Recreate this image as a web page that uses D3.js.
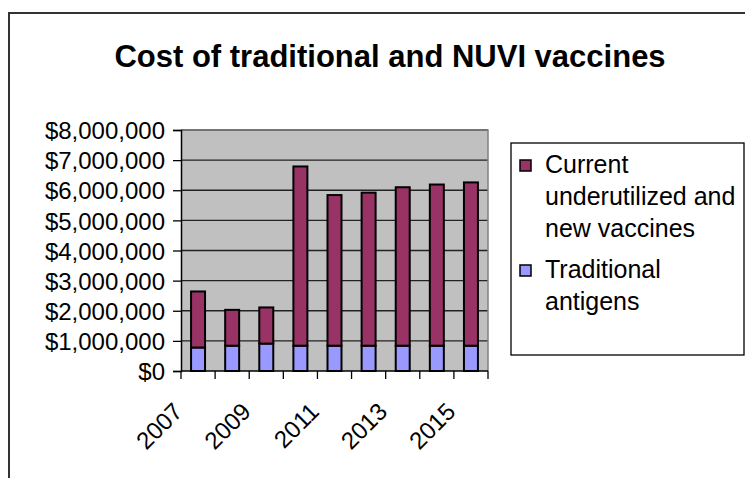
<!DOCTYPE html>
<html>
<head>
<meta charset="utf-8">
<script src="https://cdn.jsdelivr.net/npm/d3@7"></script>
<style>
  body { margin: 0; background: #fff; }
  text { font-family: Arial, "Liberation Sans", sans-serif; fill: #000; }
</style>
</head>
<body>
<div id="chart"></div>
<script>
var years = ["2007", "2008", "2009", "2010", "2011", "2012", "2013", "2014", "2015"];
var traditional = [780000, 840000, 910000, 840000, 840000, 840000, 840000, 840000, 840000];
var current = [1860000, 1190000, 1200000, 5950000, 5000000, 5080000, 5260000, 5350000, 5420000];
var yTicks = [0, 1000000, 2000000, 3000000, 4000000, 5000000, 6000000, 7000000, 8000000];
var seriesNames = ["Current underutilized and new vaccines", "Traditional antigens"];
var seriesColors = ["#993366", "#9999ff"];

var width = 745, height = 478;
var plot = {left: 181, right: 488, top: 130, bottom: 371};

var svg = d3.select("#chart").append("svg")
    .attr("width", width)
    .attr("height", height);

// chart area border
svg.append("rect")
    .attr("x", 9).attr("y", 13)
    .attr("width", 800).attr("height", 600)
    .attr("fill", "#fff")
    .attr("stroke", "#333")
    .attr("stroke-width", 2);

svg.append("text")
    .attr("x", 390).attr("y", 67)
    .attr("text-anchor", "middle")
    .style("font-size", "31px")
    .style("font-weight", "bold")
    .text("Cost of traditional and NUVI vaccines");

var x = d3.scaleBand()
    .domain(years)
    .range([plot.left, plot.right])
    .padding(0);

var y = d3.scaleLinear()
    .domain([0, 8000000])
    .range([plot.bottom, plot.top]);

// plot background
svg.append("rect")
    .attr("x", plot.left).attr("y", plot.top)
    .attr("width", plot.right - plot.left)
    .attr("height", plot.bottom - plot.top)
    .attr("fill", "#c0c0c0");

// gridlines
svg.append("g")
  .selectAll("line")
  .data(yTicks.slice(1))
  .enter().append("line")
    .attr("x1", plot.left).attr("x2", plot.right)
    .attr("y1", function(d) { return y(d); })
    .attr("y2", function(d) { return y(d); })
    .attr("stroke", "#222")
    .attr("stroke-width", 1.4);

// top/right plot border
svg.append("path")
    .attr("d", "M" + plot.left + "," + plot.top + "H" + plot.right + "V" + plot.bottom)
    .attr("fill", "none")
    .attr("stroke", "#808080")
    .attr("stroke-width", 1.5);

// bars
var barW = x.bandwidth() * 0.41;
var stacked = years.map(function(yr, i) {
  return {year: yr, trad: traditional[i], cur: current[i]};
});

var bars = svg.append("g");
bars.selectAll("rect.trad")
  .data(stacked)
  .enter().append("rect")
    .attr("class", "trad")
    .attr("x", function(d) { return x(d.year) + (x.bandwidth() - barW) / 2; })
    .attr("y", function(d) { return y(d.trad); })
    .attr("width", barW)
    .attr("height", function(d) { return y(0) - y(d.trad); })
    .attr("fill", seriesColors[1])
    .attr("stroke", "#000")
    .attr("stroke-width", 2);

bars.selectAll("rect.cur")
  .data(stacked)
  .enter().append("rect")
    .attr("class", "cur")
    .attr("x", function(d) { return x(d.year) + (x.bandwidth() - barW) / 2; })
    .attr("y", function(d) { return y(d.trad + d.cur); })
    .attr("width", barW)
    .attr("height", function(d) { return y(d.trad) - y(d.trad + d.cur); })
    .attr("fill", seriesColors[0])
    .attr("stroke", "#000")
    .attr("stroke-width", 2);

// y axis
var fmt = d3.format("$,.0f");
var yAxis = svg.append("g")
    .attr("transform", "translate(" + plot.left + ",0)")
    .call(d3.axisLeft(y).tickValues(yTicks).tickSize(8).tickPadding(8)
      .tickFormat(function(d) { return fmt(d); }));
yAxis.select(".domain").attr("stroke", "#000").attr("stroke-width", 1.5);
yAxis.selectAll(".tick line").attr("stroke", "#000").attr("stroke-width", 1.3);
yAxis.selectAll(".tick text")
    .style("font-size", "24px")
    .style("font-family", "Arial, 'Liberation Sans', sans-serif")
    .attr("dy", "0.36em");

// x axis with ticks at category boundaries
var xAxis = svg.append("g");
xAxis.append("line")
    .attr("x1", plot.left).attr("x2", plot.right)
    .attr("y1", plot.bottom).attr("y2", plot.bottom)
    .attr("stroke", "#000").attr("stroke-width", 1.5);
xAxis.selectAll("line.tick")
  .data(years.concat(["end"]))
  .enter().append("line")
    .attr("class", "tick")
    .attr("x1", function(d) { return d === "end" ? plot.right : x(d); })
    .attr("x2", function(d) { return d === "end" ? plot.right : x(d); })
    .attr("y1", plot.bottom).attr("y2", plot.bottom + 8)
    .attr("stroke", "#000").attr("stroke-width", 1.3);
xAxis.selectAll("text")
  .data(years.filter(function(d, i) { return i % 2 === 0; }))
  .enter().append("text")
    .attr("transform", function(d) {
      return "translate(" + (x(d) + x.bandwidth() / 2 - 14) + "," + 413 + ") rotate(-45)";
    })
    .attr("text-anchor", "end")
    .style("font-size", "24px")
    .text(function(d) { return d; });

// legend
var legend = svg.append("g");
legend.append("rect")
    .attr("x", 511).attr("y", 143)
    .attr("width", 233).attr("height", 212)
    .attr("fill", "#fff")
    .attr("stroke", "#000")
    .attr("stroke-width", 1.3);

var legendLines = [["Current", "underutilized and", "new vaccines"], ["Traditional", "antigens"]];
var legendY = [173, 278];
legendLines.forEach(function(lines, i) {
  legend.append("rect")
      .attr("x", 520).attr("y", legendY[i] - 13)
      .attr("width", 11).attr("height", 11)
      .attr("fill", seriesColors[i])
      .attr("stroke", "#000")
      .attr("stroke-width", 1.5);
  var t = legend.append("text")
      .attr("x", 545).attr("y", legendY[i])
      .style("font-size", "25px");
  t.selectAll("tspan")
    .data(lines)
    .enter().append("tspan")
      .attr("x", 545)
      .attr("dy", function(d, j) { return j === 0 ? 0 : 32; })
      .text(function(d) { return d; });
});
</script>
</body>
</html>
